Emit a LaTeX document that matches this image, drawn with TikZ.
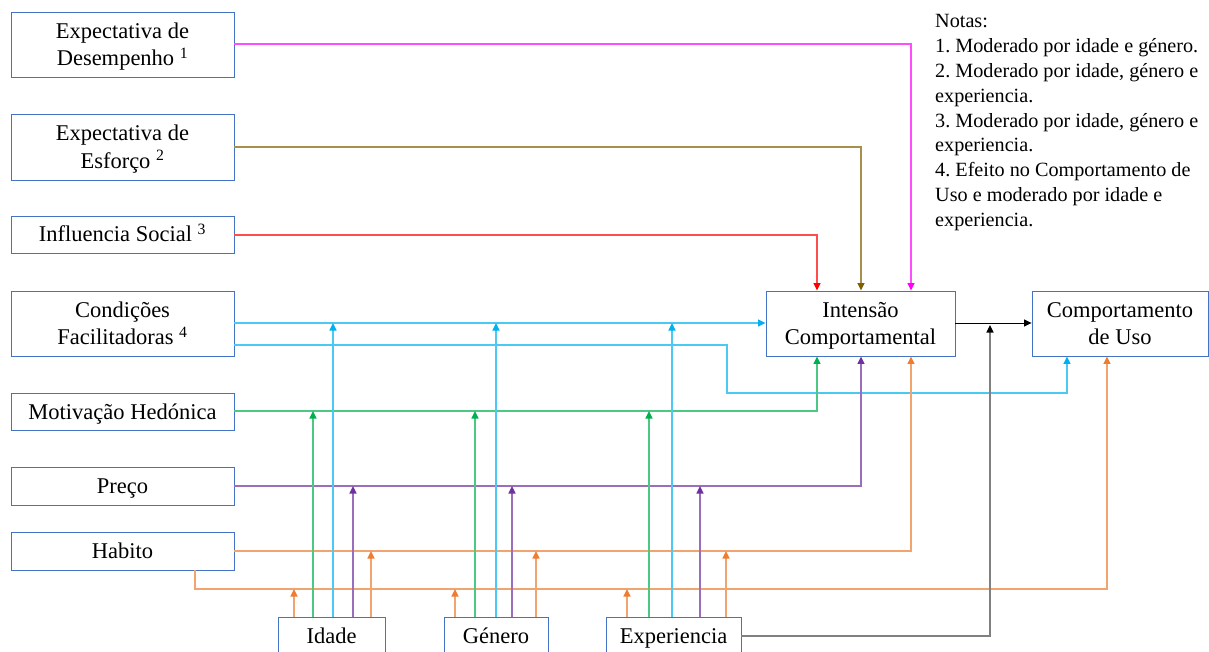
\documentclass[tikz,border=0pt]{standalone}
\usepackage{fontspec}
\setmainfont{Liberation Serif}
\usetikzlibrary{arrows.meta}
\definecolor{bx}{RGB}{68,114,196}
\definecolor{cMag}{RGB}{255,0,255}
\definecolor{cOl}{RGB}{127,96,0}
\definecolor{cRed}{RGB}{255,0,0}
\definecolor{cCy}{RGB}{0,176,240}
\definecolor{cGr}{RGB}{0,176,80}
\definecolor{cPu}{RGB}{112,48,160}
\definecolor{cOr}{RGB}{237,125,49}
\newcommand\lblfont{\fontsize{22.5}{27.5}\selectfont}
\newcommand\notefont{\fontsize{20.2}{24.9}\selectfont\frenchspacing}
\newcommand\sups[1]{\textsuperscript{#1}}
\newcommand\lstr{\rule[-5.25pt]{0pt}{25.5pt}}
\begin{document}
\begin{tikzpicture}[x=1pt,y=-1pt,
  box/.style={draw=bx, line width=0.9pt, fill=white, inner sep=0pt, align=center, font=\lblfont},
  con/.style={line width=1.3pt, draw=#1!70!white, -{Triangle[length=7.5pt,width=7pt,color=#1]}},
  conb/.style={line width=0.9pt, draw=#1, -{Triangle[length=7.5pt,width=7pt,color=black]}}]
\useasboundingbox (0,0) rectangle (1209,652);
% boxes
\node[box, minimum width=223, minimum height=65] (ed) at (122.5,44.5) {\lstr Expectativa de\\\lstr Desempenho \sups{1}};
\node[box, minimum width=223, minimum height=66] (ee) at (122.5,147) {\lstr Expectativa de\\\lstr Esforço \sups{2}};
\node[box, minimum width=223, minimum height=37] (is) at (122.5,234.5) {\lstr Influencia Social \sups{3}};
\node[box, minimum width=223, minimum height=65] (cf) at (122.5,323.5) {\lstr Condições\\\lstr Facilitadoras \sups{4}};
\node[box, minimum width=223, minimum height=37] (mh) at (122.5,411.5) {\lstr Motivação Hedónica};
\node[box, minimum width=223, minimum height=38] (pr) at (122.5,486) {\lstr Preço};
\node[box, minimum width=223, minimum height=38] (ha) at (122.5,551) {\lstr Habito};
\node[box, minimum width=189, minimum height=65] (ic) at (860.5,323.5) {\lstr Intensão\\\lstr Comportamental};
\node[box, minimum width=176, minimum height=65] (cu) at (1120,323.5) {\lstr Comportamento\\\lstr de Uso};
\node[box, minimum width=107, minimum height=38] (id) at (331.5,636) {\lstr Idade};
\node[box, minimum width=104, minimum height=38] (ge) at (496,636) {\lstr Género};
\node[box, minimum width=135, minimum height=38] (ex) at (673.5,636) {\lstr Experiencia};
% notes
\node[anchor=north west, inner sep=0pt, align=left, font=\notefont] (notes) at (935,14) {Notas:\\1. Moderado por idade e género.\\2. Moderado por idade, género e\\experiencia.\\3. Moderado por idade, género e\\experiencia.\\4. Efeito no Comportamento de\\Uso e moderado por idade e\\experiencia.};
% helper coordinates
\foreach \xx in {195,294,313,333,353,371,455,475,496,512,536,627,649,672,700,726,727,817,861,911,990,1067,1107}
  {\coordinate (X\xx) at (\xx,0);}
\foreach \yy in {44,147,235,323,325,345,393,411,486,551,589,636}
  {\coordinate (Y\yy) at (0,\yy);}
% main connectors
\draw[con=cMag] (ed.east |- Y44) -| (ic.north -| X911);
\draw[con=cOl] (ee.east |- Y147) -| (ic.north -| X861);
\draw[con=cRed] (is.east |- Y235) -| (ic.north -| X817);
\draw[con=cCy] (cf.east |- Y323) -- (ic.west |- Y323);
\draw[con=cCy] (cf.east |- Y345) -- (X727 |- Y345) -- (X727 |- Y393) -| (cu.south -| X1067);
\draw[con=cGr] (mh.east |- Y411) -| (ic.south -| X817);
\draw[con=cPu] (pr.east |- Y486) -| (ic.south -| X861);
\draw[con=cOr] (ha.east |- Y551) -| (ic.south -| X911);
\draw[con=cOr] (ha.south -| X195) -- (X195 |- Y589) -| (cu.south -| X1107);
\draw[conb=black] (ic.east |- Y323) -- (cu.west |- Y323);
\draw[conb=black!50, line width=1.2pt] (ex.east |- Y636) -| (X990 |- Y325);
% moderators: Idade
\draw[con=cOr] (id.north -| X294) -- (X294 |- Y589);
\draw[con=cGr] (id.north -| X313) -- (X313 |- Y411);
\draw[con=cCy] (id.north -| X333) -- (X333 |- Y323);
\draw[con=cPu] (id.north -| X353) -- (X353 |- Y486);
\draw[con=cOr] (id.north -| X371) -- (X371 |- Y551);
% Genero
\draw[con=cOr] (ge.north -| X455) -- (X455 |- Y589);
\draw[con=cGr] (ge.north -| X475) -- (X475 |- Y411);
\draw[con=cCy] (ge.north -| X496) -- (X496 |- Y323);
\draw[con=cPu] (ge.north -| X512) -- (X512 |- Y486);
\draw[con=cOr] (ge.north -| X536) -- (X536 |- Y551);
% Experiencia
\draw[con=cOr] (ex.north -| X627) -- (X627 |- Y589);
\draw[con=cGr] (ex.north -| X649) -- (X649 |- Y411);
\draw[con=cCy] (ex.north -| X672) -- (X672 |- Y323);
\draw[con=cPu] (ex.north -| X700) -- (X700 |- Y486);
\draw[con=cOr] (ex.north -| X726) -- (X726 |- Y551);
\end{tikzpicture}
\end{document}
